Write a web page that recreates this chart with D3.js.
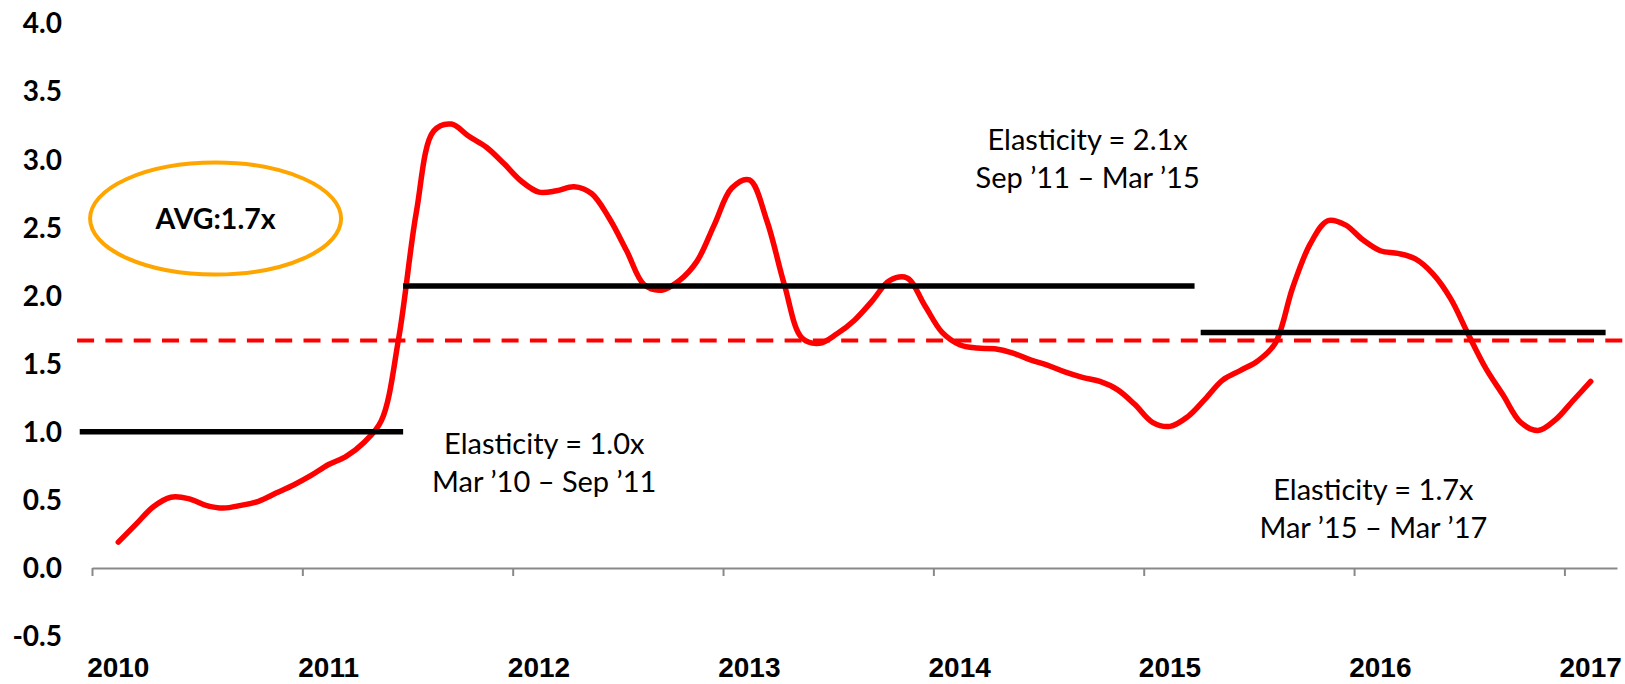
<!DOCTYPE html>
<html>
<head>
<meta charset="utf-8">
<script src="https://cdn.jsdelivr.net/npm/d3@7"></script>
<style>
  body { margin: 0; background: #fff; }
  svg { display: block; }
</style>
</head>
<body>
<div id="chart"></div>
<script>
const width = 1625;
const height = 684;

// monthly elasticity, Mar '10 (index 0) to Mar '17 (index 84)
const elasticity = [
  0.19, 0.32, 0.45, 0.52, 0.51, 0.46, 0.44, 0.46, 0.49, 0.55, 0.61, 0.68,
  0.76, 0.82, 0.92, 1.08, 1.69, 2.61, 3.21, 3.26, 3.17, 3.09, 2.97, 2.84,
  2.76, 2.77, 2.80, 2.75, 2.57, 2.33, 2.08, 2.04, 2.11, 2.25, 2.52, 2.79,
  2.85, 2.55, 2.08, 1.69, 1.65, 1.72, 1.82, 1.96, 2.11, 2.13, 1.93, 1.73,
  1.64, 1.615, 1.61, 1.58, 1.53, 1.49, 1.44, 1.40, 1.37, 1.31, 1.20, 1.07,
  1.04, 1.11, 1.24, 1.38, 1.45, 1.52, 1.65, 2.06, 2.38, 2.55, 2.52, 2.41,
  2.33, 2.31, 2.27, 2.16, 1.98, 1.72, 1.47, 1.27, 1.07, 1.01, 1.09, 1.23,
  1.37
];

const yearLabels = ["2010", "2011", "2012", "2013", "2014", "2015", "2016", "2017"];
const yTicks = [-0.5, 0, 0.5, 1.0, 1.5, 2.0, 2.5, 3.0, 3.5, 4.0];

const avgValue = 1.67;
const avgLabel = "AVG:1.7x";

// elasticity per period (drawn as flat black segments, in month index units)
const periodValue = [1.0, 2.07, 1.73];
const periodFrom = [-2.2, 16.25, 61.75];
const periodTo = [16.25, 61.4, 84.85];
const periodTitle = ["Elasticity = 1.0x", "Elasticity = 2.1x", "Elasticity = 1.7x"];
const periodRange = ["Mar \u201910 \u2013 Sep \u201911", "Sep \u201911 \u2013 Mar \u201915", "Mar \u201915 \u2013 Mar \u201917"];
// where each period's note sits (month index, value at first baseline)
const noteAt = [[24.3, 0.837], [55.3, 3.07], [71.6, 0.5]];

const svg = d3.select("#chart")
  .append("svg")
  .attr("width", width)
  .attr("height", height);

const xScale = d3.scaleLinear()
  .domain([-1.5, 85.5])
  .range([92, 1617]);

const yScale = d3.scaleLinear()
  .domain([-0.5, 4])
  .range([636.1, 23.3]);

// x axis: ticks sit between years, labels under each March point
const xAxis = d3.axisBottom(xScale)
  .tickValues(yearLabels.map((d, i) => i * 12 - 1.5))
  .tickFormat("")
  .tickSize(8)
  .tickSizeOuter(0);

const gx = svg.append("g")
  .attr("transform", `translate(0, ${yScale(0)})`)
  .call(xAxis);
gx.select(".domain").attr("stroke", "#898989").attr("stroke-width", 2);
gx.selectAll(".tick line").attr("stroke", "#898989").attr("stroke-width", 2);

svg.append("g")
  .selectAll("text")
  .data(yearLabels)
  .enter()
  .append("text")
  .attr("x", (d, i) => xScale(i * 12))
  .attr("y", 677)
  .attr("text-anchor", "middle")
  .attr("font-family", "'Liberation Sans', Arial, sans-serif")
  .attr("font-weight", "bold")
  .attr("font-size", 28)
  .attr("fill", "#000")
  .text(d => d);

// y labels only, no axis line
svg.append("g")
  .selectAll("text")
  .data(yTicks)
  .enter()
  .append("text")
  .attr("x", 62)
  .attr("y", d => yScale(d))
  .attr("dy", "0.36em")
  .attr("text-anchor", "end")
  .attr("font-family", "Lato, 'Open Sans', sans-serif")
  .attr("font-weight", "bold")
  .attr("font-size", 28)
  .attr("fill", "#000")
  .text(d => d.toFixed(1));

// average dashed line
svg.append("line")
  .attr("x1", xScale(-2.35))
  .attr("x2", xScale(86.5))
  .attr("y1", yScale(avgValue))
  .attr("y2", yScale(avgValue))
  .attr("stroke", "#ff0000")
  .attr("stroke-width", 4)
  .attr("stroke-dasharray", "17 11.3");

const line = d3.line()
  .x((d, i) => xScale(i))
  .y(d => yScale(d))
  .curve(d3.curveCatmullRom.alpha(0.5));

svg.append("path")
  .datum(elasticity)
  .attr("d", line)
  .attr("fill", "none")
  .attr("stroke", "#ff0000")
  .attr("stroke-width", 5.5)
  .attr("stroke-linecap", "round")
  .attr("stroke-linejoin", "round");

svg.append("g")
  .selectAll("line")
  .data(periodValue)
  .enter()
  .append("line")
  .attr("x1", (d, i) => xScale(periodFrom[i]))
  .attr("x2", (d, i) => xScale(periodTo[i]))
  .attr("y1", d => yScale(d))
  .attr("y2", d => yScale(d))
  .attr("stroke", "#000")
  .attr("stroke-width", 5.5);

const notes = svg.append("g")
  .selectAll("text")
  .data(periodTitle)
  .enter()
  .append("text")
  .attr("text-anchor", "middle")
  .attr("font-family", "Lato, 'Open Sans', sans-serif")
  .attr("font-size", 29)
  .attr("fill", "#000");

notes.append("tspan")
  .attr("x", (d, i) => xScale(noteAt[i][0]))
  .attr("y", (d, i) => yScale(noteAt[i][1]))
  .text(d => d);

notes.append("tspan")
  .attr("x", (d, i) => xScale(noteAt[i][0]))
  .attr("dy", 38)
  .text((d, i) => periodRange[i]);

// AVG bubble
const bubble = svg.append("g");
bubble.append("ellipse")
  .attr("cx", xScale(5.55))
  .attr("cy", yScale(2.566))
  .attr("rx", 125.5)
  .attr("ry", 56)
  .attr("fill", "none")
  .attr("stroke", "#ffa500")
  .attr("stroke-width", 4);

bubble.append("text")
  .attr("x", xScale(5.55))
  .attr("y", yScale(2.566))
  .attr("dy", "0.36em")
  .attr("text-anchor", "middle")
  .attr("font-family", "Lato, 'Open Sans', sans-serif")
  .attr("font-weight", "bold")
  .attr("font-size", 28.5)
  .attr("fill", "#000")
  .text(avgLabel);
</script>
</body>
</html>
